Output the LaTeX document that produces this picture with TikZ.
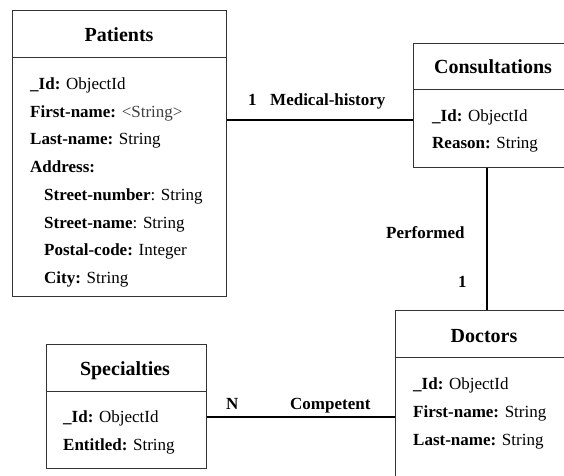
\documentclass[tikz,border=0pt]{standalone}
\usepackage{fontspec}
\setmainfont{Liberation Serif}
\begin{document}
\begin{tikzpicture}[x=1pt,y=-1pt,
 box/.style={draw=black!80, line width=1pt, anchor=north west, inner sep=0pt},
 sep/.style={draw=black!80, line width=1pt},
 ttl/.style={anchor=base, font=\fontsize{20}{20}\selectfont\bfseries, inner sep=0pt},
 att/.style={anchor=base west, font=\fontsize{17}{17}\selectfont, inner sep=0pt},
 lbl/.style={anchor=base west, font=\fontsize{17}{17}\selectfont\bfseries, inner sep=0pt},
 conn/.style={line width=1.5pt}]
\useasboundingbox (0,0) rectangle (564,475);
\begin{scope}
\clip (0,0) rectangle (564,475);
% boxes
\node[box, minimum width=214pt, minimum height=286pt] (pat) at (12,10) {};
\node[box, minimum width=160pt, minimum height=124pt] (cons) at (413,43) {};
\node[box, minimum width=178pt, minimum height=180pt] (doc) at (395,310) {};
\node[box, minimum width=160pt, minimum height=124pt] (spec) at (46,344) {};
\draw[sep] ([yshift=-47pt]pat.north west) -- ([yshift=-47pt]pat.north east);
\draw[sep] ([yshift=-46pt]cons.north west) -- ([yshift=-46pt]cons.north east);
\draw[sep] ([yshift=-47pt]doc.north west) -- ([yshift=-47pt]doc.north east);
\draw[sep] ([yshift=-47pt]spec.north west) -- ([yshift=-47pt]spec.north east);
% titles
\node[ttl] (patT) at (119,41) {Patients};
\node[ttl] (consT) at (493,73) {Consultations};
\node[ttl] (docT) at (484,342) {Doctors};
\node[ttl] (specT) at (125,375) {Specialties};
% Patients attributes
\node[att] (p1) at (30,89) {\textbf{\_Id:} ObjectId};
\node[att] (p2) at (30,117) {\textbf{First-name:} \textcolor{black!75}{\textless String\textgreater}};
\node[att] (p3) at (30,144) {\textbf{Last-name:} String};
\node[att] (p4) at (30,172) {\textbf{Address:}};
\node[att] (p5) at (44,200) {\textbf{Street-number}: String};
\node[att] (p6) at (44,228) {\textbf{Street-name}: String};
\node[att] (p7) at (44,255) {\textbf{Postal-code:} Integer};
\node[att] (p8) at (44,283) {\textbf{City:} String};
% Consultations attributes
\node[att] (c1) at (432,121) {\textbf{\_Id:} ObjectId};
\node[att] (c2) at (432,148) {\textbf{Reason:} String};
% Doctors attributes
\node[att] (d1) at (413,389) {\textbf{\_Id:} ObjectId};
\node[att] (d2) at (413,417) {\textbf{First-name:} String};
\node[att] (d3) at (413,445) {\textbf{Last-name:} String};
% Specialties attributes
\node[att] (s1) at (63,422) {\textbf{\_Id:} ObjectId};
\node[att] (s2) at (63,450) {\textbf{Entitled:} String};
% connectors
\coordinate (mh) at (0,120);
\coordinate (pf) at (487,0);
\coordinate (cp) at (0,417);
\draw[conn] (pat.east |- mh) -- (cons.west |- mh);
\draw[conn] (cons.south -| pf) -- (doc.north -| pf);
\draw[conn] (spec.east |- cp) -- (doc.west |- cp);
% labels
\node[lbl] (l1) at (248,105) {1};
\node[lbl] (l2) at (270,105) {Medical-history};
\node[lbl] (l3) at (386,238) {Performed};
\node[lbl] (l4) at (458,287) {1};
\node[lbl] (l5) at (226,409) {N};
\node[lbl] (l6) at (290,409) {Competent};
\end{scope}
\end{tikzpicture}
\end{document}
